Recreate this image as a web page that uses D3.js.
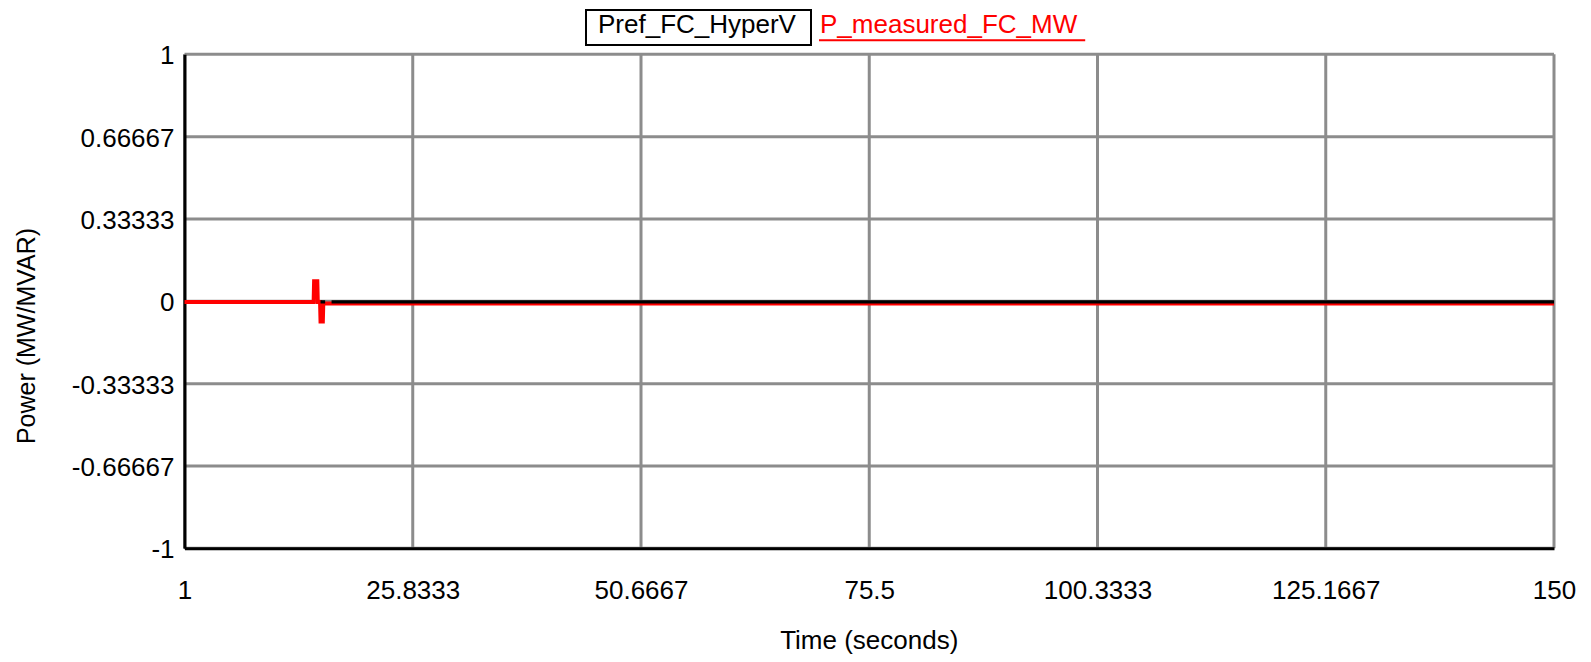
<!DOCTYPE html>
<html>
<head>
<meta charset="utf-8">
<script src="https://cdn.jsdelivr.net/npm/d3@7"></script>
<style>
  body { margin: 0; background: #fff; }
  text { font-family: "Liberation Sans", Arial, sans-serif; }
</style>
</head>
<body>
<div class="chart"></div>
<script>
var svgWidth = 1591;
var svgHeight = 662;

var margin = { top: 54.3, right: 37, bottom: 113.7, left: 184.5 };
var width = svgWidth - margin.left - margin.right;
var height = svgHeight - margin.top - margin.bottom;

// tick values and labels as shown on the plot
var xTicks = [1, 25.8333, 50.6667, 75.5, 100.3333, 125.1667, 150];
var xTickLabels = ["1", "25.8333", "50.6667", "75.5", "100.3333", "125.1667", "150"];
var yTicks = [-1, -0.66667, -0.33333, 0, 0.33333, 0.66667, 1];
var yTickLabels = ["-1", "-0.66667", "-0.33333", "0", "0.33333", "0.66667", "1"];

// series (time in seconds, power in MW)
var prefTime = [15.8, 16.3, 16.35, 17.0, 150];
var prefValue = [-0.002, -0.002, NaN, -0.002, -0.002];

var measTime = [1, 15.05, 15.1, 15.45, 15.5, 15.75, 15.8, 16.05, 16.1, 150];
var measValue = [-0.003, -0.003, 0.081, 0.081, -0.003, -0.003, -0.082, -0.082, -0.009, -0.009];

var svg = d3.select(".chart")
  .append("svg")
  .attr("width", svgWidth)
  .attr("height", svgHeight);

var chartGroup = svg.append("g")
  .attr("transform", `translate(${margin.left}, ${margin.top})`);

var xScale = d3.scaleLinear().domain([1, 150]).range([0, width]);
var yScale = d3.scaleLinear().domain([-1, 1]).range([height, 0]);

// gridlines
chartGroup.selectAll(".hgrid")
  .data(yTicks)
  .enter()
  .append("line")
  .attr("x1", 0)
  .attr("x2", width)
  .attr("y1", d => yScale(d))
  .attr("y2", d => yScale(d))
  .attr("stroke", "#8c8c8c")
  .attr("stroke-width", 3);

chartGroup.selectAll(".vgrid")
  .data(xTicks)
  .enter()
  .append("line")
  .attr("x1", d => xScale(d))
  .attr("x2", d => xScale(d))
  .attr("y1", 0)
  .attr("y2", height)
  .attr("stroke", "#8c8c8c")
  .attr("stroke-width", 3);

// axes (black left and bottom lines, no tick marks)
var bottomAxis = d3.axisBottom(xScale)
  .tickValues(xTicks)
  .tickFormat((d, i) => xTickLabels[i])
  .tickSize(0)
  .tickPadding(32);

var leftAxis = d3.axisLeft(yScale)
  .tickValues(yTicks)
  .tickFormat((d, i) => yTickLabels[i])
  .tickSize(0)
  .tickPadding(10);

var xAxis = chartGroup.append("g")
  .attr("transform", `translate(0, ${height})`)
  .call(bottomAxis);

var yAxis = chartGroup.append("g")
  .call(leftAxis);

[xAxis, yAxis].forEach(ax => {
  ax.select(".domain").attr("stroke", "#000").attr("stroke-width", 3);
  ax.selectAll("text")
    .attr("font-size", "26px")
    .attr("font-family", "'Liberation Sans', Arial, sans-serif")
    .attr("fill", "#000");
});
yAxis.selectAll("text").attr("dy", "0.36em");

// lines
var measLine = d3.line()
  .defined(d => !isNaN(d[1]))
  .x(d => xScale(d[0]))
  .y(d => yScale(d[1]));

chartGroup.append("path")
  .datum(measTime.map((t, i) => [t, measValue[i]]))
  .attr("fill", "none")
  .attr("stroke", "#ff0000")
  .attr("stroke-width", 4)
  .attr("stroke-linejoin", "miter")
  .attr("d", measLine);

chartGroup.append("path")
  .datum(prefTime.map((t, i) => [t, prefValue[i]]))
  .attr("fill", "none")
  .attr("stroke", "#000")
  .attr("stroke-width", 3.3)
  .attr("d", measLine);

// axis titles
svg.append("text")
  .attr("x", margin.left + width / 2)
  .attr("y", 649)
  .attr("text-anchor", "middle")
  .attr("font-size", "26px")
  .text("Time (seconds)");

svg.append("text")
  .attr("transform", "translate(35, 336) rotate(-90)")
  .attr("text-anchor", "middle")
  .attr("font-size", "25px")
  .text("Power (MW/MVAR)");

// legend
var legend = svg.append("g");

legend.append("rect")
  .attr("x", 586)
  .attr("y", 10)
  .attr("width", 225)
  .attr("height", 35)
  .attr("fill", "#fff")
  .attr("stroke", "#000")
  .attr("stroke-width", 2);

legend.append("text")
  .attr("x", 598)
  .attr("y", 33)
  .attr("font-size", "26px")
  .attr("fill", "#000")
  .text("Pref_FC_HyperV");

var redLabel = legend.append("text")
  .attr("x", 820)
  .attr("y", 33)
  .attr("font-size", "26px")
  .attr("fill", "#ff0000")
  .text("P_measured_FC_MW");

var redW = redLabel.node().getComputedTextLength();
legend.append("line")
  .attr("x1", 819)
  .attr("x2", 820 + redW + 8)
  .attr("y1", 40.2)
  .attr("y2", 40.2)
  .attr("stroke", "#ff0000")
  .attr("stroke-width", 2);
</script>
</body>
</html>
